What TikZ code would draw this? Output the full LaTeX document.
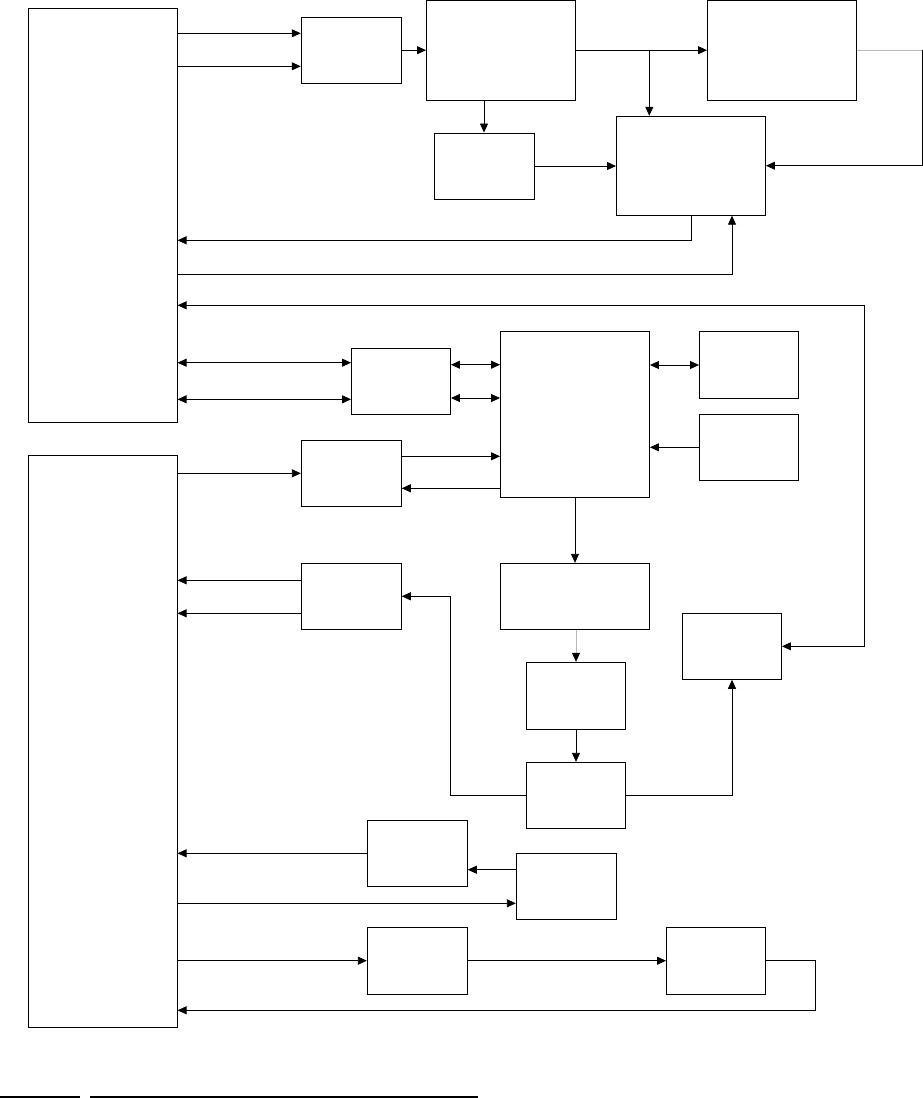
\documentclass[tikz,border=0pt]{standalone}
\usepackage{xcolor}
\usepackage{tikz}
\usetikzlibrary{arrows.meta,calc}
\definecolor{ink}{HTML}{000000}

\begin{document}
\begin{tikzpicture}[x=1pt,y=-1pt,
  b/.style={draw=ink,line width=0.9pt,inner sep=0pt},
  sz/.style 2 args={minimum width=#1pt,minimum height=#2pt},
  a/.style={-{Triangle[length=9pt,width=8pt]},ink,line width=0.8pt},
  aa/.style={{Triangle[length=9pt,width=8pt]}-{Triangle[length=9pt,width=8pt]},ink,line width=0.8pt},
  l/.style={ink,line width=0.8pt}]
\useasboundingbox (0,0) rectangle (923,1098);
% two tall boxes on the left
\node[b,sz={149}{413.5}](up) at (102.6,215.3) {};
\node[b,sz={149}{572.3}](low) at (102.6,741.2) {};
% top band
\node[b,sz={100}{66}](u1) at (351.2,50.2) {};
\node[b,sz={149}{99.5}](u2) at (501,50.2) {};
\node[b,sz={149}{99.5}](u3) at (782,50.2) {};
\node[b,sz={100}{66}](u4) at (484,166) {};
\node[b,sz={149}{99}](u5) at (691,165.7) {};
% middle band
\node[b,sz={99}{66}](m1) at (401,381) {};
\node[b,sz={149}{166}](m2) at (575,414.2) {};
\node[b,sz={99}{67}](m3) at (749,365) {};
\node[b,sz={99}{66}](m4) at (749,447.3) {};
\node[b,sz={100}{66}](m5) at (351.3,473.3) {};
% lower band
\node[b,sz={100}{66}](d1) at (351.3,596.3) {};
\node[b,sz={149}{66}](d2) at (575,596.3) {};
\node[b,sz={99}{66}](d3) at (732,646.3) {};
\node[b,sz={99}{66.7}](d4) at (576,695.6) {};
\node[b,sz={99}{66}](d5) at (576,795.3) {};
\node[b,sz={100}{66}](d6) at (417.3,853.3) {};
\node[b,sz={100}{66}](d7) at (566.3,886.2) {};
\node[b,sz={100}{66.7}](d8) at (417.3,960.7) {};
\node[b,sz={99}{66.7}](d9) at (716,960.7) {};
% top band links
\draw[a](up.east |- 0,33.3)--(u1.west |- 0,33.3);
\draw[a](up.east |- 0,66.3)--(u1.west |- 0,66.3);
\draw[a](u1.east)--(u2.west);
\draw[a](u2.east)--(u3.west);
\coordinate(tap) at (649.3,50.2);
\draw[a](tap)--(tap |- u5.north);
\draw[a](u4.north |- u2.south)--(u4.north);
\draw[a](u4.east)--(u5.west |- u4.east);
\coordinate(ec) at (922.3,50.2);
\draw[l,gray!55](u3.east)--(ec);
\draw[a](ec) |- (u5.east);
\draw[a](u5.south) |- (up.east |- 0,240.3);
\draw[a](up.east |- 0,274)-|([xshift=41pt]u5.south);
% long return on the right
\coordinate(rc) at (864.3,305.3);
\draw[aa](d3.east)-|(rc)--(up.east |- rc);
% middle band links
\draw[aa](up.east |- 0,362.7)--(m1.west |- 0,362.7);
\draw[aa](up.east |- 0,399.3)--(m1.west |- 0,399.3);
\draw[aa](m1.east |- 0,364.7)--(m2.west |- 0,364.7);
\draw[aa](m1.east |- 0,398)--(m2.west |- 0,398);
\draw[aa](m2.east |- m3.west)--(m3.west);
\draw[a](m4.west)--(m2.east |- m4.west);
\draw[a](low.east |- m5.west)--(m5.west);
\draw[a](m5.east |- 0,456.3)--(m2.west |- 0,456.3);
\draw[a](m2.west |- 0,488.3)--(m5.east |- 0,488.3);
\draw[a](m2.south)--(d2.north);
% lower band links
\draw[a](d1.west |- 0,580.3)--(low.east |- 0,580.3);
\draw[a](d1.west |- 0,613.3)--(low.east |- 0,613.3);
\coordinate(qc) at (450.3,596.3);
\draw[a](d5.west)-|(qc)--(d1.east);
\draw[gray!55,line width=0.8pt,-{Triangle[length=9pt,width=8pt,color=ink]}](d4.north |- d2.south)--(d4.north);
\draw[a](d4.south)--(d5.north);
\draw[a](d5.east)-|(d3.south);
\draw[a](d6.west)--(low.east |- d6.west);
\draw[a](d7.west |- 0,869.7)--(d6.east |- 0,869.7);
\draw[a](low.east |- 0,903.3)--(d7.west |- 0,903.3);
\draw[a](low.east |- d8.west)--(d8.west);
\draw[a](d8.east)--(d9.west);
\coordinate(uc) at (815,1010.3);
\draw[a](d9.east)-|(uc)--(low.east |- uc);
% rules at the foot
\draw[line width=2pt](0,1097)--(80,1097);
\draw[line width=2pt](90,1097)--(478,1097);
\end{tikzpicture}
\end{document}
